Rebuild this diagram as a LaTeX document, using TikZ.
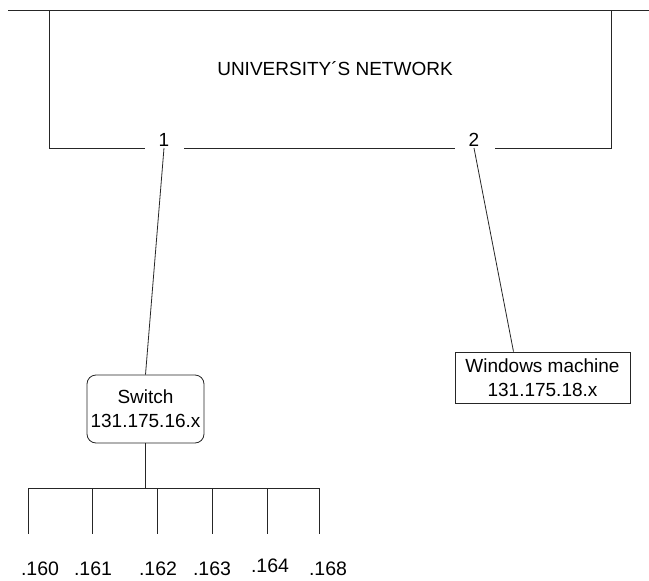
\documentclass[tikz,border=0pt]{standalone}
\usepackage{fontspec}
\setmainfont{Liberation Sans}
\tikzset{
  wire/.style={
    line width=0.8pt,
    draw=black!85
  },
  switchbox/.style={
    draw=black!85,
    line width=0.8pt,
    rounded corners=9pt,
    align=center,
    minimum width=117pt,
    minimum height=68pt,
    inner sep=0pt
  },
  hostbox/.style={
    draw=black!85,
    line width=0.8pt,
    align=center,
    minimum width=175pt,
    minimum height=51pt,
    inner sep=0pt
  },
  port/.style={
    inner sep=1pt,
    font=\fontsize{19}{22}\selectfont
  },
  hostlabel/.style={
    font=\fontsize{19.5}{24}\selectfont
  },
  every node/.style={
    font=\fontsize{19}{24}\selectfont
  }
}

\begin{document}
\begin{tikzpicture}[x=1pt,y=-1pt]
        \useasboundingbox (0,0) rectangle (649,581);
        % network frame
        \draw[wire] (8,10) -- (649,10);
        \draw[wire] (49,10) -- (49,148) -- (145,148);
        \draw[wire] (184,148) -- (455,148);
        \draw[wire] (495,148) -- (611,148) -- (611,10);
        \node (net) at (335,69) {UNIVERSITY´S NETWORK};
        \node[port,anchor=south] (p1) at (164,148) {1};
        \node[port,anchor=south] (p2) at (474,148) {2};
        % switch and windows host
        \node[switchbox] (switch) at (145.5,409) {Switch\\131.175.16.x};
        \node[hostbox] (win) at (542.5,377.5) {Windows machine\\131.175.18.x};
        \draw[wire] (p1.south) -- (switch.north);
        \draw[wire] (p2.south) -- ([xshift=-29pt]win.north);
        % hosts on the switch
        \coordinate (bus) at (145.5,488);
        \draw[wire] (switch.south) -- (bus);
        \draw[wire] (28,488) -- (319,488);
        \foreach \x in {28,92,157,212,267,319}
                \draw[wire] (\x,488) -- (\x,534);
        \foreach \lx/\ip/\ly in {40/160/569,93/161/569,158/162/569,212/163/569,270/164/566,328/168/569}
                \node[hostlabel] (h\ip) at (\lx,\ly) {.\ip};
    \end{tikzpicture}
\end{document}
